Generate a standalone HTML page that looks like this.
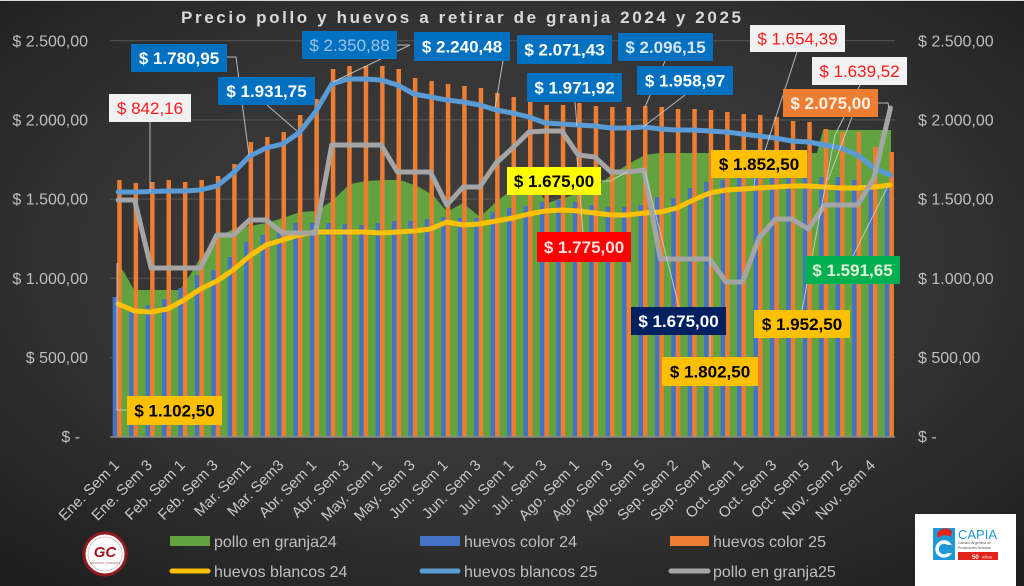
<!DOCTYPE html>
<html><head><meta charset="utf-8"><style>
html,body{margin:0;padding:0;background:#2a2a2a;}
svg{display:block;}
text{font-family:"Liberation Sans",Arial,sans-serif;}
</style></head><body>
<svg width="1024" height="586" viewBox="0 0 1024 586" xmlns="http://www.w3.org/2000/svg">
<defs>
<radialGradient id="bg" cx="50%" cy="45%" r="70%">
<stop offset="0" stop-color="#424242"/><stop offset="0.6" stop-color="#333333"/><stop offset="1" stop-color="#1f1f1f"/>
</radialGradient>
</defs>
<rect x="0" y="0" width="1024" height="586" fill="url(#bg)"/>
<rect x="0" y="0" width="1024" height="1" fill="#d8d8d8"/>

<!-- title -->
<text x="461" y="23" font-size="17" font-weight="bold" fill="#d9d9d9" text-anchor="middle" textLength="560" lengthAdjust="spacing">Precio pollo y huevos a retirar de granja  2024 y 2025</text>

<!-- gridlines -->
<g stroke="#575757" stroke-width="1">
<line x1="110" y1="40.7" x2="895" y2="40.7"/>
<line x1="110" y1="119.9" x2="895" y2="119.9"/>
<line x1="110" y1="199.1" x2="895" y2="199.1"/>
<line x1="110" y1="278.3" x2="895" y2="278.3"/>
<line x1="110" y1="357.5" x2="895" y2="357.5"/>
</g>

<!-- axis labels left -->
<g font-size="16" fill="#bfbfbf" text-anchor="end">
<text x="88" y="46.5">$ 2.500,00</text>
<text x="88" y="125.5">$ 2.000,00</text>
<text x="88" y="204.5">$ 1.500,00</text>
<text x="88" y="284">$ 1.000,00</text>
<text x="88" y="363">$ 500,00</text>
<text x="80" y="442">$ -</text>
</g>
<g font-size="16" fill="#bfbfbf">
<text x="918" y="46.5">$ 2.500,00</text>
<text x="918" y="125.5">$ 2.000,00</text>
<text x="918" y="204.5">$ 1.500,00</text>
<text x="918" y="284">$ 1.000,00</text>
<text x="918" y="363">$ 500,00</text>
<text x="918" y="442">$ -</text>
</g>

<!-- green area pollo 24 -->
<polygon fill="#63a33f" points="117,437 117,263 124,272 134,290 180,290 190,275 200,258 217,238 233,229 250,226 267,223 283,218 300,212 317,211 333,200 350,184 367,181 383,180 400,180 417,186 433,195 447,212 463,203 480,217 497,201 513,189 530,178 547,203 563,198 580,193 597,186 613,174 630,163 645,155 660,153 817,153 823,130 891,130 891,437"/>

<!-- blue bars huevos color 24 -->
<g fill="#4472c4">
<rect x="112.7" y="297" width="4.5" height="140"/>
<rect x="129.1" y="307" width="4.5" height="130"/>
<rect x="145.6" y="305" width="4.5" height="132"/>
<rect x="162.0" y="299" width="4.5" height="138"/>
<rect x="178.4" y="288" width="4.5" height="149"/>
<rect x="194.9" y="275" width="4.5" height="162"/>
<rect x="211.3" y="270" width="4.5" height="167"/>
<rect x="227.7" y="257" width="4.5" height="180"/>
<rect x="244.1" y="242" width="4.5" height="195"/>
<rect x="260.6" y="235" width="4.5" height="202"/>
<rect x="277.0" y="232" width="4.5" height="205"/>
<rect x="293.4" y="223" width="4.5" height="214"/>
<rect x="309.9" y="223" width="4.5" height="214"/>
<rect x="326.3" y="223" width="4.5" height="214"/>
<rect x="342.7" y="224" width="4.5" height="213"/>
<rect x="359.2" y="225" width="4.5" height="212"/>
<rect x="375.6" y="223" width="4.5" height="214"/>
<rect x="392.0" y="221" width="4.5" height="216"/>
<rect x="408.4" y="221" width="4.5" height="216"/>
<rect x="424.9" y="219" width="4.5" height="218"/>
<rect x="441.3" y="217" width="4.5" height="220"/>
<rect x="457.7" y="218" width="4.5" height="219"/>
<rect x="474.2" y="218" width="4.5" height="219"/>
<rect x="490.6" y="212" width="4.5" height="225"/>
<rect x="507.0" y="208" width="4.5" height="229"/>
<rect x="523.5" y="206" width="4.5" height="231"/>
<rect x="539.9" y="202" width="4.5" height="235"/>
<rect x="556.3" y="200" width="4.5" height="237"/>
<rect x="572.7" y="202" width="4.5" height="235"/>
<rect x="589.2" y="205" width="4.5" height="232"/>
<rect x="605.6" y="207" width="4.5" height="230"/>
<rect x="622.0" y="207" width="4.5" height="230"/>
<rect x="638.5" y="205" width="4.5" height="232"/>
<rect x="654.9" y="197" width="4.5" height="240"/>
<rect x="671.3" y="198" width="4.5" height="239"/>
<rect x="687.8" y="188" width="4.5" height="249"/>
<rect x="704.2" y="182" width="4.5" height="255"/>
<rect x="720.6" y="180" width="4.5" height="257"/>
<rect x="737.0" y="178" width="4.5" height="259"/>
<rect x="753.5" y="178" width="4.5" height="259"/>
<rect x="769.9" y="178" width="4.5" height="259"/>
<rect x="786.3" y="178" width="4.5" height="259"/>
<rect x="802.8" y="178" width="4.5" height="259"/>
<rect x="819.2" y="177" width="4.5" height="260"/>
<rect x="835.6" y="177" width="4.5" height="260"/>
<rect x="852.1" y="180" width="4.5" height="257"/>
<rect x="868.5" y="185" width="4.5" height="252"/>
<rect x="884.9" y="186" width="4.5" height="251"/>
</g>

<!-- orange bars huevos color 25 -->
<g fill="#ed7d31">
<rect x="117.2" y="180" width="4.5" height="257"/>
<rect x="133.6" y="183" width="4.5" height="254"/>
<rect x="150.1" y="182" width="4.5" height="255"/>
<rect x="166.5" y="180" width="4.5" height="257"/>
<rect x="182.9" y="182" width="4.5" height="255"/>
<rect x="199.4" y="180" width="4.5" height="257"/>
<rect x="215.8" y="176" width="4.5" height="261"/>
<rect x="232.2" y="164" width="4.5" height="273"/>
<rect x="248.6" y="142" width="4.5" height="295"/>
<rect x="265.1" y="137" width="4.5" height="300"/>
<rect x="281.5" y="132" width="4.5" height="305"/>
<rect x="297.9" y="115" width="4.5" height="322"/>
<rect x="314.4" y="99" width="4.5" height="338"/>
<rect x="330.8" y="69" width="4.5" height="368"/>
<rect x="347.2" y="66" width="4.5" height="371"/>
<rect x="363.7" y="66" width="4.5" height="371"/>
<rect x="380.1" y="66" width="4.5" height="371"/>
<rect x="396.5" y="69" width="4.5" height="368"/>
<rect x="412.9" y="78" width="4.5" height="359"/>
<rect x="429.4" y="81" width="4.5" height="356"/>
<rect x="445.8" y="84" width="4.5" height="353"/>
<rect x="462.2" y="86" width="4.5" height="351"/>
<rect x="478.7" y="88" width="4.5" height="349"/>
<rect x="495.1" y="93" width="4.5" height="344"/>
<rect x="511.5" y="97" width="4.5" height="340"/>
<rect x="528.0" y="102" width="4.5" height="335"/>
<rect x="544.4" y="105" width="4.5" height="332"/>
<rect x="560.8" y="105" width="4.5" height="332"/>
<rect x="577.2" y="103" width="4.5" height="334"/>
<rect x="593.7" y="106" width="4.5" height="331"/>
<rect x="610.1" y="107" width="4.5" height="330"/>
<rect x="626.5" y="107" width="4.5" height="330"/>
<rect x="643.0" y="106" width="4.5" height="331"/>
<rect x="659.4" y="107" width="4.5" height="330"/>
<rect x="675.8" y="109" width="4.5" height="328"/>
<rect x="692.3" y="109" width="4.5" height="328"/>
<rect x="708.7" y="110" width="4.5" height="327"/>
<rect x="725.1" y="112" width="4.5" height="325"/>
<rect x="741.5" y="114" width="4.5" height="323"/>
<rect x="758.0" y="115" width="4.5" height="322"/>
<rect x="774.4" y="117" width="4.5" height="320"/>
<rect x="790.8" y="121" width="4.5" height="316"/>
<rect x="807.3" y="122" width="4.5" height="315"/>
<rect x="823.7" y="129" width="4.5" height="308"/>
<rect x="840.1" y="132" width="4.5" height="305"/>
<rect x="856.6" y="132" width="4.5" height="305"/>
<rect x="873.0" y="147" width="4.5" height="290"/>
<rect x="889.4" y="152" width="4.5" height="285"/>
</g>

<!-- x axis line -->
<line x1="110" y1="437" x2="895" y2="437" stroke="#8a8a8a" stroke-width="1.5"/>

<!-- yellow line huevos blancos 24 -->
<polyline fill="none" stroke="#ffc000" stroke-width="5" stroke-linejoin="round" stroke-linecap="round" points="118.2,304 134.6,311 151.1,312 167.5,309 183.9,300 200.4,289 216.8,281 233.2,270 249.6,256 266.1,245 282.5,240 298.9,235 315.4,232 331.8,232 348.2,232 364.7,232 381.1,233 397.5,232 413.9,231 430.4,229 446.8,222 463.2,225 479.7,224 496.1,221 512.5,218 529.0,214 545.4,211 561.8,210 578.2,211 594.7,213 611.1,215 627.5,215 644.0,213 660.4,212 676.8,208 693.3,200 709.7,193 726.1,190 742.5,189 759.0,188 775.4,187 791.8,186 808.3,186 824.7,187 841.1,188 857.6,188 874.0,187 890.4,185"/>

<!-- light blue line huevos blancos 25 -->
<polyline fill="none" stroke="#5b9bd5" stroke-width="5" stroke-linejoin="round" stroke-linecap="round" points="118.2,192 134.6,192 151.1,191.5 167.5,191 183.9,191 200.4,190 216.8,186 233.2,173 249.6,156 266.1,148 282.5,144 298.9,133 315.4,112 331.8,84 348.2,79 364.7,79 381.1,80 397.5,85 413.9,94 430.4,97 446.8,100 463.2,102 479.7,105 496.1,110 512.5,113 529.0,117 545.4,123 561.8,124 578.2,125 594.7,126 611.1,128 627.5,128 644.0,127 660.4,129 676.8,130 693.3,130 709.7,131 726.1,132 742.5,134 759.0,136 775.4,138 791.8,141 808.3,142 824.7,145 841.1,148 857.6,155 874.0,168 890.4,175"/>

<!-- gray line pollo 25 -->
<polyline fill="none" stroke="#a5a5a5" stroke-width="5" stroke-linejoin="round" stroke-linecap="round" points="118.2,200 134.6,200 151.1,268 167.5,268 183.9,268 200.4,268 216.8,235 233.2,235 249.6,220 266.1,220 282.5,233 298.9,233 315.4,233 331.8,145 348.2,145 364.7,145 381.1,145 397.5,172 413.9,172 430.4,172 446.8,205 463.2,187 479.7,187 496.1,163 512.5,148 529.0,132 545.4,131 561.8,131 578.2,155 594.7,157 611.1,172 627.5,172 644.0,170 660.4,259 676.8,259 693.3,259 709.7,259 726.1,282 742.5,282 759.0,238 775.4,219 791.8,219 808.3,229 824.7,205 841.1,205 857.6,205 874.0,178 890.4,108"/>

<!-- leader lines -->
<g fill="none" stroke="#d0d0d0" stroke-width="1" opacity="0.85">
<polyline points="227,57 236,57 249,155"/>
<polyline points="267,105 297,131"/>
<polyline points="150,122 150,192"/>
<polyline points="397,45 410,45 333,82"/>
<polyline points="503,61 495,108"/>
<polyline points="665,61 645,107"/>
<polyline points="575,102 577,126"/>
<polyline points="685,95 643,127"/>
<polyline points="797,52 757,175"/>
<polyline points="860,85 835,135"/>
<polyline points="878,103 888,103 889,108"/>
<polyline points="852,117 828,180"/>
<polyline points="853,256 888,186"/>
<polyline points="755,178 754,188"/>
<polyline points="601,181 610,181 627,172"/>
<polyline points="583,232 577,157"/>
<polyline points="679,307 645,172"/>
<polyline points="710,357 710,192"/>
<polyline points="802,310 835,135"/>
<polyline points="127,410 117,410 117,263"/>
</g>

<!-- data labels -->
<g font-size="17" text-anchor="middle">
<rect x="131" y="44" width="96" height="28" fill="#0070c0"/>
<text x="179" y="64" fill="#ffffff" font-weight="bold">$ 1.780,95</text>
<rect x="218" y="77" width="97" height="28" fill="#0070c0"/>
<text x="266.5" y="97" fill="#ffffff" font-weight="bold">$ 1.931,75</text>
<rect x="109" y="94" width="82" height="28" fill="#f2f2f2"/>
<text x="150" y="114" fill="#ff1a1a">$ 842,16</text>
<rect x="302" y="31" width="95" height="28" fill="#0070c0"/>
<text x="349.5" y="51" fill="#9dc3e6">$ 2.350,88</text>
<rect x="414" y="32" width="96" height="29" fill="#0070c0"/>
<text x="462" y="52.5" fill="#ffffff" font-weight="bold">$ 2.240,48</text>
<rect x="517" y="35" width="95" height="29" fill="#0070c0"/>
<text x="564.5" y="55.5" fill="#ffffff" font-weight="bold">$ 2.071,43</text>
<rect x="618" y="33" width="95" height="28" fill="#0070c0"/>
<text x="665.5" y="53" fill="#d6e4f4" font-weight="bold">$ 2.096,15</text>
<rect x="527" y="73" width="95" height="29" fill="#0070c0"/>
<text x="574.5" y="93.5" fill="#ffffff" font-weight="bold">$ 1.971,92</text>
<rect x="637" y="66" width="96" height="29" fill="#0070c0"/>
<text x="685" y="86.5" fill="#ffffff" font-weight="bold">$ 1.958,97</text>
<rect x="750" y="25" width="95" height="27" fill="#f2f2f2"/>
<text x="797.5" y="44.5" fill="#ff1a1a">$ 1.654,39</text>
<rect x="812" y="57" width="95" height="28" fill="#f2f2f2"/>
<text x="859.5" y="77" fill="#ff1a1a">$ 1.639,52</text>
<rect x="783" y="89" width="95" height="28" fill="#ed7d31"/>
<text x="830.5" y="109" fill="#fdf0e6" font-weight="bold">$ 2.075,00</text>
<rect x="711" y="150" width="96" height="28" fill="#ffc000"/>
<text x="759" y="170" fill="#000000" font-weight="bold">$ 1.852,50</text>
<rect x="507" y="167" width="94" height="28" fill="#ffff00"/>
<text x="554" y="187" fill="#000000" font-weight="bold">$ 1.675,00</text>
<rect x="537" y="232" width="94" height="30" fill="#ff0000"/>
<text x="584" y="253" fill="#fbe0e0" font-weight="bold">$ 1.775,00</text>
<rect x="631" y="307" width="95" height="28" fill="#002060"/>
<text x="678.5" y="327" fill="#ffffff" font-weight="bold">$ 1.675,00</text>
<rect x="662" y="357" width="96" height="29" fill="#ffc000"/>
<text x="710" y="377.5" fill="#000000" font-weight="bold">$ 1.802,50</text>
<rect x="754" y="310" width="96" height="28" fill="#ffc000"/>
<text x="802" y="330" fill="#000000" font-weight="bold">$ 1.952,50</text>
<rect x="805" y="256" width="95" height="28" fill="#00b050"/>
<text x="852.5" y="276" fill="#e2f0d9" font-weight="bold">$ 1.591,65</text>
<rect x="127" y="396" width="95" height="29" fill="#ffc000"/>
<text x="174.5" y="416.5" fill="#000000" font-weight="bold">$ 1.102,50</text>
</g>

<!-- x category labels -->
<g font-size="15" fill="#c8c8c8" text-anchor="end">
<text x="120.2" y="466" transform="rotate(-45 120.2 466)">Ene. Sem 1</text>
<text x="153.1" y="466" transform="rotate(-45 153.1 466)">Ene. Sem 3</text>
<text x="185.9" y="466" transform="rotate(-45 185.9 466)">Feb. Sem 1</text>
<text x="218.8" y="466" transform="rotate(-45 218.8 466)">Feb. Sem 3</text>
<text x="251.6" y="466" transform="rotate(-45 251.6 466)">Mar. Sem1</text>
<text x="284.5" y="466" transform="rotate(-45 284.5 466)">Mar. Sem3</text>
<text x="317.4" y="466" transform="rotate(-45 317.4 466)">Abr. Sem 1</text>
<text x="350.2" y="466" transform="rotate(-45 350.2 466)">Abr. Sem 3</text>
<text x="383.1" y="466" transform="rotate(-45 383.1 466)">May. Sem 1</text>
<text x="415.9" y="466" transform="rotate(-45 415.9 466)">May. Sem 3</text>
<text x="448.8" y="466" transform="rotate(-45 448.8 466)">Jun. Sem 1</text>
<text x="481.7" y="466" transform="rotate(-45 481.7 466)">Jun. Sem 3</text>
<text x="514.5" y="466" transform="rotate(-45 514.5 466)">Jul. Sem 1</text>
<text x="547.4" y="466" transform="rotate(-45 547.4 466)">Jul. Sem 3</text>
<text x="580.2" y="466" transform="rotate(-45 580.2 466)">Ago. Sem 1</text>
<text x="613.1" y="466" transform="rotate(-45 613.1 466)">Ago. Sem 3</text>
<text x="646" y="466" transform="rotate(-45 646 466)">Ago. Sem 5</text>
<text x="678.8" y="466" transform="rotate(-45 678.8 466)">Sep. Sem 2</text>
<text x="711.7" y="466" transform="rotate(-45 711.7 466)">Sep. Sem 4</text>
<text x="744.5" y="466" transform="rotate(-45 744.5 466)">Oct. Sem 1</text>
<text x="777.4" y="466" transform="rotate(-45 777.4 466)">Oct. Sem 3</text>
<text x="810.3" y="466" transform="rotate(-45 810.3 466)">Oct. Sem 5</text>
<text x="843.1" y="466" transform="rotate(-45 843.1 466)">Nov. Sem 2</text>
<text x="876" y="466" transform="rotate(-45 876 466)">Nov. Sem 4</text>
</g>

<!-- legend -->
<rect x="170" y="536" width="40" height="10" fill="#63a33f"/>
<rect x="420" y="536" width="40" height="10" fill="#4472c4"/>
<rect x="670" y="536" width="39" height="10" fill="#ed7d31"/>
<g stroke-width="5" stroke-linecap="round">
<line x1="172" y1="571" x2="208" y2="571" stroke="#ffc000"/>
<line x1="422" y1="571" x2="458" y2="571" stroke="#5b9bd5"/>
<line x1="671" y1="571" x2="708" y2="571" stroke="#a5a5a5"/>
</g>
<g font-size="16" fill="#bfbfbf">
<text x="214" y="547">pollo en granja24</text>
<text x="464" y="547">huevos color 24</text>
<text x="713" y="547">huevos color 25</text>
<text x="214" y="577">huevos blancos 24</text>
<text x="464" y="577">huevos blancos 25</text>
<text x="713" y="577">pollo en granja25</text>
</g>

<!-- GC logo -->
<circle cx="105" cy="554" r="21" fill="#ffffff" stroke="#8e1b1f" stroke-width="3"/>
<circle cx="105" cy="554" r="17" fill="none" stroke="#d9b0b0" stroke-width="0.7"/>
<text x="105" y="557" font-size="15" font-weight="bold" font-style="italic" fill="#a3151b" text-anchor="middle">GC</text>
<text x="105" y="564" font-size="3" fill="#a06060" text-anchor="middle">GRANJAS CUIDADAS</text>

<!-- CAPIA logo -->
<rect x="915" y="514" width="101" height="72" fill="#ffffff"/>
<rect x="933" y="528" width="22" height="32" fill="#1d9ad6"/>
<path d="M937 533 Q944 525 952 531 L951 537 Q944 533 938 538 Z" fill="#e2231a"/>
<circle cx="944" cy="549" r="7" fill="none" stroke="#ffffff" stroke-width="3.5"/>
<rect x="945" y="545" width="8" height="8" fill="#1d9ad6"/>
<text x="958" y="539" font-size="13" fill="#1d9ad6">CAPIA</text>
<text x="958" y="544" font-size="3.5" fill="#555">Cámara Argentina de</text>
<text x="958" y="549" font-size="3.5" fill="#555">Productores Avícolas</text>
<rect x="958" y="552" width="40" height="8" fill="#e2231a"/>
<text x="972" y="559" font-size="6" font-weight="bold" fill="#ffffff">50</text>
<text x="982" y="558.5" font-size="3.5" fill="#ffffff">AÑOS</text>
</svg>
</body></html>
